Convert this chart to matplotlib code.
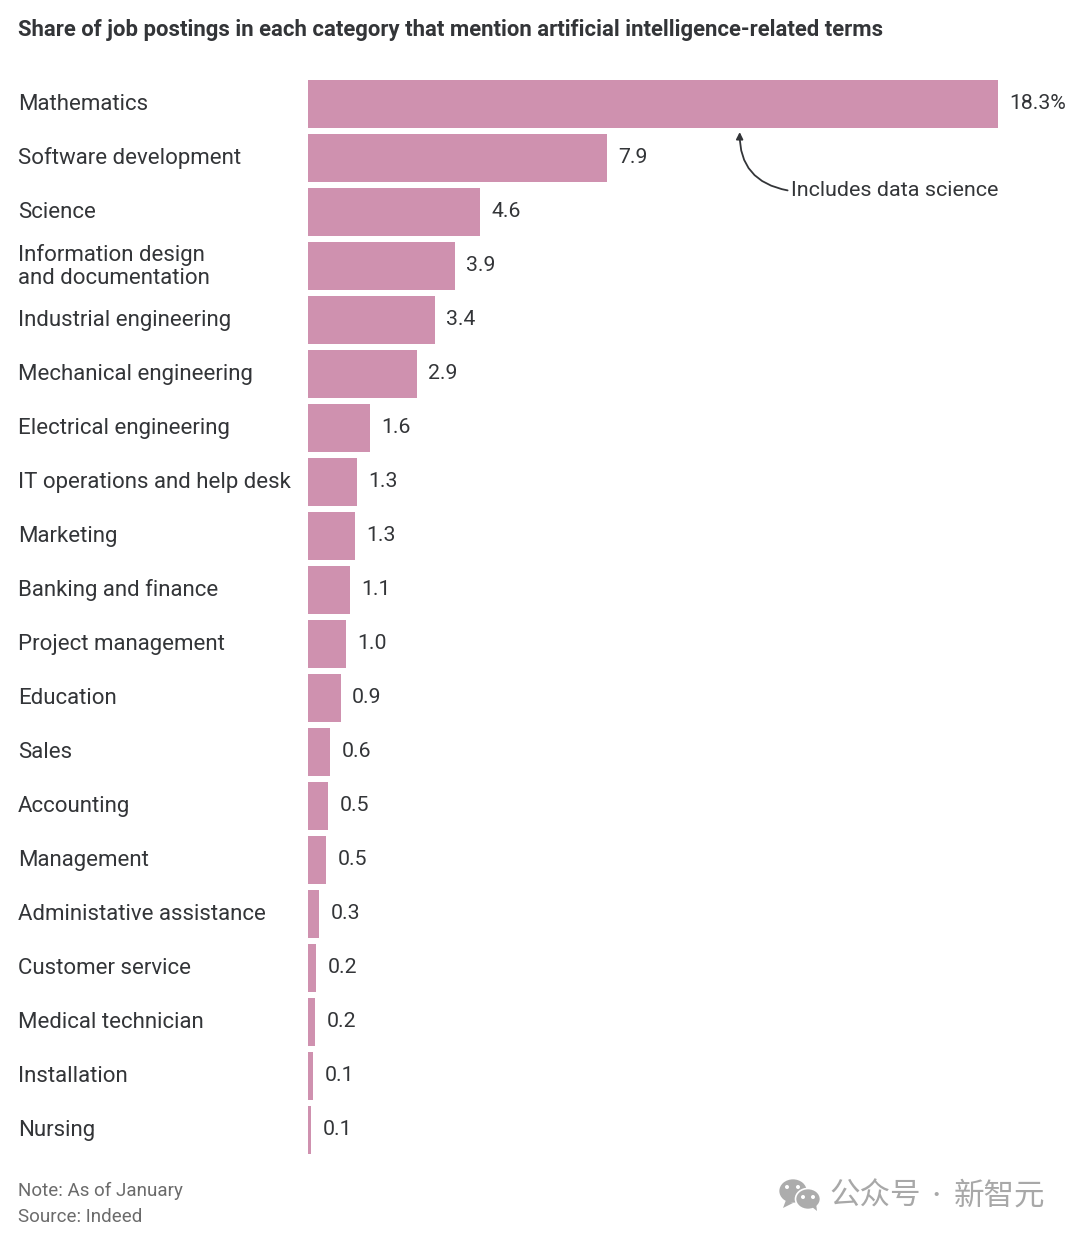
import matplotlib
matplotlib.use("Agg")
import matplotlib.pyplot as plt
from matplotlib.patches import Ellipse, Polygon
from matplotlib.transforms import blended_transform_factory

plt.rcParams["font.family"] = ["Roboto", "Noto Sans CJK SC", "DejaVu Sans"]

W, H = 1080, 1239
BAR_COLOR = "#cf91af"
TEXT_COLOR = "#333538"
GREY = "#6b6b6b"

categories = [
    "Mathematics", "Software development", "Science",
    "Information design\nand documentation", "Industrial engineering",
    "Mechanical engineering", "Electrical engineering",
    "IT operations and help desk", "Marketing", "Banking and finance",
    "Project management", "Education", "Sales", "Accounting", "Management",
    "Administative assistance", "Customer service", "Medical technician",
    "Installation", "Nursing",
]
# bar lengths as measured, a bit finer than the printed labels
values = [18.3, 7.93, 4.56, 3.9, 3.37, 2.89, 1.64, 1.3, 1.25, 1.11,
          1.0, 0.87, 0.58, 0.53, 0.48, 0.29, 0.21, 0.19, 0.13, 0.09]
value_labels = ["18.3%", "7.9", "4.6", "3.9", "3.4", "2.9", "1.6", "1.3", "1.3", "1.1",
                "1.0", "0.9", "0.6", "0.5", "0.5", "0.3", "0.2", "0.2", "0.1", "0.1"]


def px_x(x):
    return x / W


def px_y(y):
    return 1 - y / H


fig = plt.figure(figsize=(W / 100, H / 100), dpi=100, facecolor="white")
ax = fig.add_axes([px_x(308), px_y(1157), px_x(998) - px_x(308), px_y(77) - px_y(1157)])
ypos = list(range(len(categories)))
ax.barh(ypos, values, height=48 / 54, color=BAR_COLOR, linewidth=0)
ax.set_xlim(0, 18.3)
ax.set_ylim(len(categories) - 0.5, -0.5)
ax.axis("off")

# category names sit at a fixed pixel x, on the bar's data y
label_tf = blended_transform_factory(fig.transFigure, ax.transData)
for y, name, val, lab in zip(ypos, categories, values, value_labels):
    ax.text(px_x(18), y + 0.005, name, transform=label_tf, ha="left", va="center",
            fontsize=16, color=TEXT_COLOR, linespacing=1.14, clip_on=False)
    ax.annotate(lab, (val, y), xytext=(8.2, 0.5), textcoords="offset points",
                ha="left", va="center", fontsize=15.3, color=TEXT_COLOR,
                annotation_clip=False)

# callout for the top bar
ax.annotate("", xy=(11.45, 0.52), xytext=(12.72, 1.6),
            arrowprops=dict(arrowstyle="-|>,head_width=0.2,head_length=0.4", color=TEXT_COLOR,
                            lw=1.3, shrinkA=0, shrinkB=0,
                            connectionstyle="arc3,rad=-0.42"))
fig.text(px_x(998), px_y(190), "Includes data science", ha="right", va="center",
         fontsize=15.45, color=TEXT_COLOR)

fig.text(px_x(18), px_y(30), "Share of job postings in each category that mention artificial intelligence-related terms",
         ha="left", va="center", fontsize=15.93, fontweight="bold", color=TEXT_COLOR)

fig.text(px_x(18), px_y(1191), "Note: As of January", ha="left", va="center", fontsize=13.5, color=GREY)
fig.text(px_x(18), px_y(1217), "Source: Indeed", ha="left", va="center", fontsize=13.5, color=GREY)

# watermark, icon first then the text
icon = "#acacac"
for cx, cy, ew, eh in [(793, 1191, 29, 25), (808, 1199, 25, 21)]:
    ax_patch = Ellipse((px_x(cx), px_y(cy)), ew / W, eh / H, transform=fig.transFigure,
                       facecolor=icon, edgecolor="white", linewidth=1.2)
    fig.add_artist(ax_patch)
fig.add_artist(Polygon([(px_x(786), px_y(1200)), (px_x(783), px_y(1208)), (px_x(793), px_y(1203))],
                       transform=fig.transFigure, facecolor=icon, edgecolor="none"))
fig.add_artist(Polygon([(px_x(812), px_y(1207)), (px_x(817), px_y(1211)), (px_x(816), px_y(1203))],
                       transform=fig.transFigure, facecolor=icon, edgecolor="none"))
for cx, cy in [(787, 1187), (798, 1187), (803, 1197), (813, 1197)]:
    fig.add_artist(Ellipse((px_x(cx), px_y(cy)), 4 / W, 4 / H, transform=fig.transFigure,
                           facecolor="white", edgecolor="none"))
cjk = ["Noto Sans CJK SC", "DejaVu Sans"]
fig.text(px_x(829), px_y(1196), "公众号", ha="left", va="center", fontsize=22, color="#a8a8a8", family=cjk)
fig.text(px_x(936), px_y(1196), "·", ha="center", va="center", fontsize=14, color="#a8a8a8", family=cjk)
fig.text(px_x(954), px_y(1196), "新智元", ha="left", va="center", fontsize=22, color="#a8a8a8", family=cjk)

fig.savefig("out.png", dpi=100)
